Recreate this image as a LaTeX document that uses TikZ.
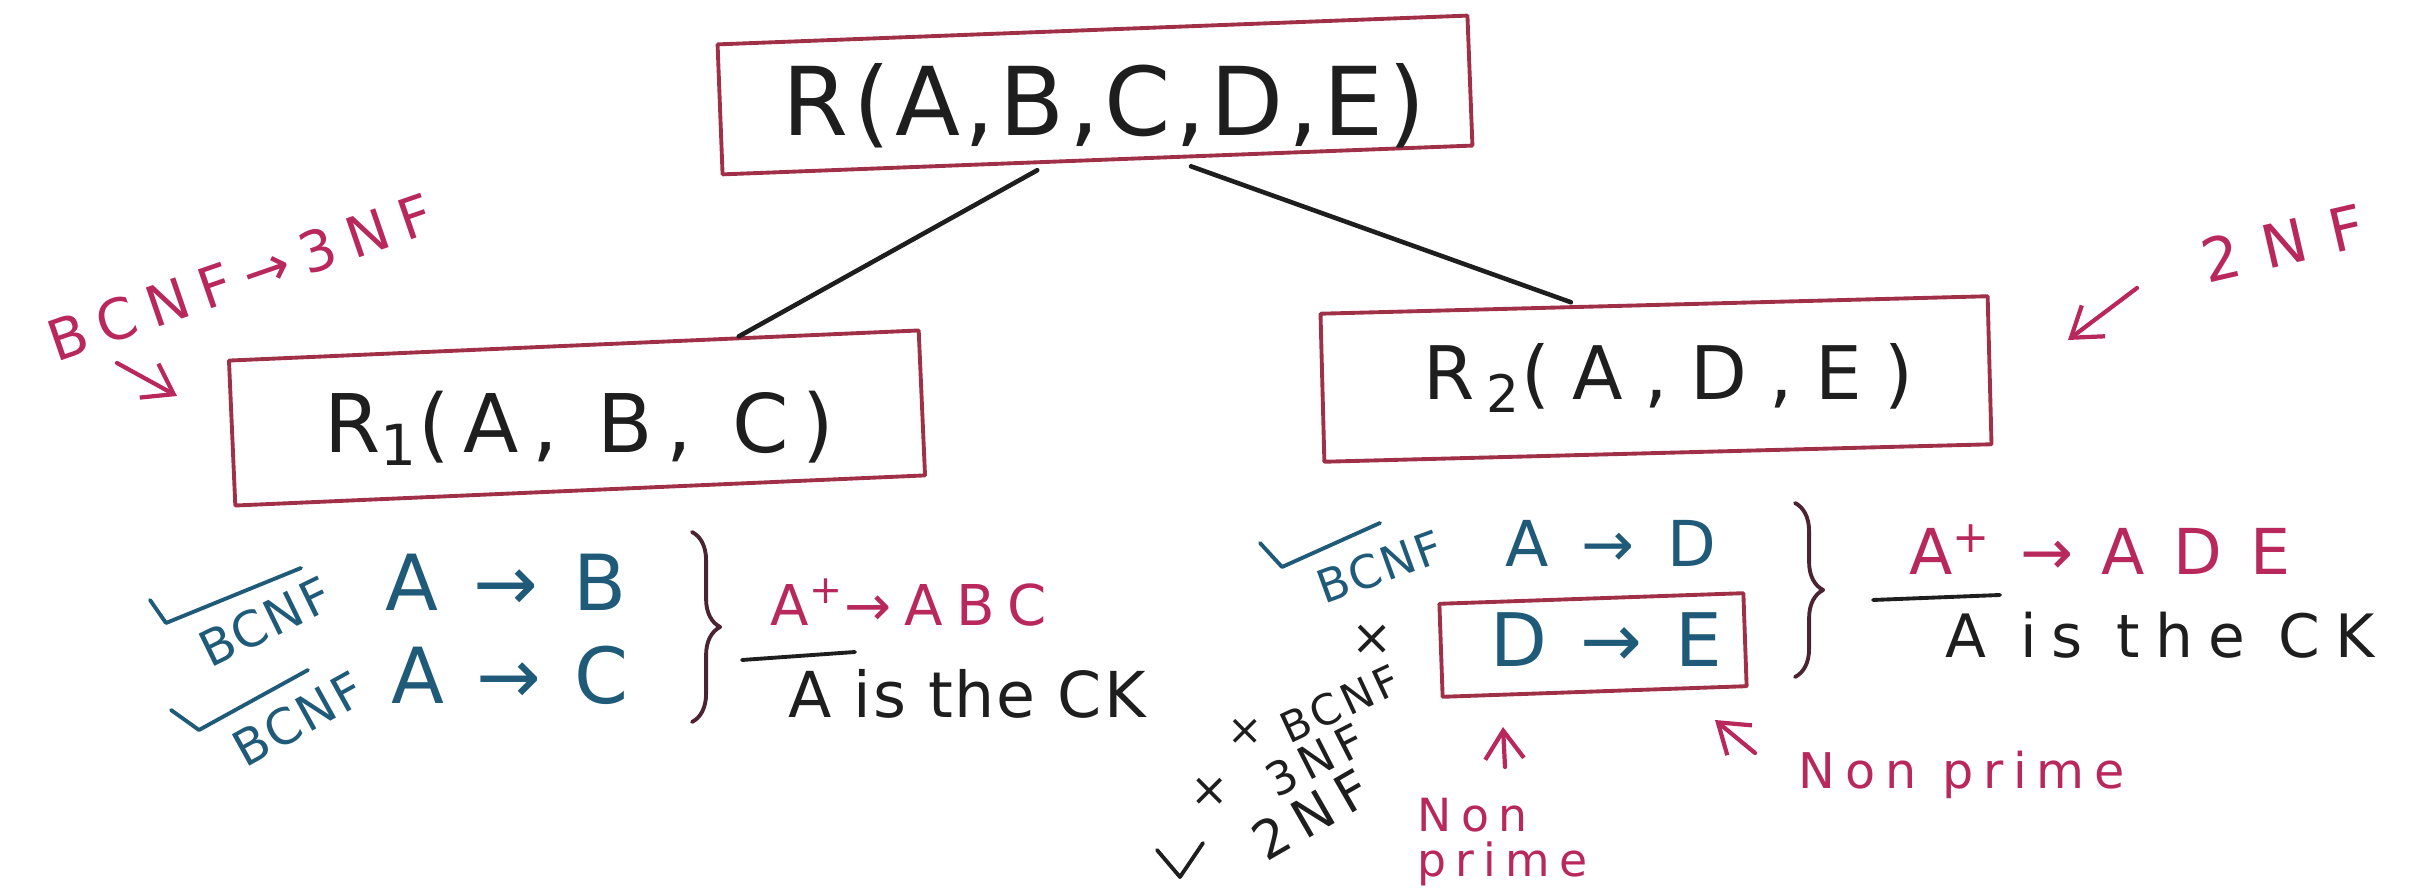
\documentclass[tikz,border=0pt]{standalone}
\usepackage{fontspec}
\setmainfont{DejaVu Sans}
\newcommand\hand[2]{\fontsize{#1}{#1}\selectfont\addfontfeature{LetterSpace=#2}}
\usepackage{tikz}
\usetikzlibrary{arrows.meta,calc,decorations.pathreplacing}
\definecolor{maroon}{HTML}{A03048}
\definecolor{rose}{HTML}{B8285A}
\definecolor{fdblue}{HTML}{1F5A78}
\definecolor{ink}{HTML}{1E1E1E}
\definecolor{bracecol}{HTML}{4A2433}

\begin{document}
\begin{tikzpicture}[x=0.01cm, y=-0.01cm, line cap=round, line join=round,
    relbox/.style={draw=maroon, line width=1.1pt},
    reltext/.style={text=ink},
    fd/.style={text=fdblue},
    closure/.style={text=rose},
    remark/.style={text=rose},
    tag/.style={text=fdblue, font=\hand{14}{5}, inner sep=1pt},
    ckmark/.style={fdblue, line width=1.1pt},
    curly/.style={bracecol, line width=1.1pt, decorate, decoration={brace, amplitude=8pt}},
    redarrow/.style={rose, line width=1.2pt, -{Straight Barb[length=8pt,width=11pt]}},
    branch/.style={ink, line width=1.3pt}]
  \useasboundingbox (0,0) rectangle (2415,895);

  % relations
  \node[relbox, rotate=2.2, minimum width=7.5cm, minimum height=1.3cm] (rel) at (1095,95) {};
  \node[reltext, font=\hand{27}{5}] (relt) at (1104,106) {R(A,B,C,D,E)};
  \node[relbox, rotate=2.5, minimum width=6.9cm, minimum height=1.45cm] (rone) at (577,418) {};
  \node[reltext, font=\hand{23}{17}] (ronet) at (579,428) {R\textsubscript{1}(A, B, C)};
  \node[relbox, rotate=1.5, minimum width=6.67cm, minimum height=1.48cm] (rtwo) at (1656,379) {};
  \node[reltext, font=\hand{21}{30}] (rtwot) at (1668,378) {R\,\textsubscript{2}(A,D,E)};
  \draw[branch] ($(rel.south west)!0.42!(rel.south east)+(0,6)$) -- ($(rone.north west)!0.738!(rone.north east)$);
  \draw[branch] ($(rel.south west)!0.624!(rel.south east)+(0,8)$) -- ($(rtwo.north west)!0.376!(rtwo.north east)+(0,-3)$);

  % normal form notes
  \node[remark, font=\hand{16}{24}, rotate=19] (bcnfnote) at (240,277) {BCNF→3NF};
  \coordinate (bcnftail) at (117,363);
  \coordinate (bcnftip) at (177,396);
  \draw[redarrow] (bcnftail) -- (bcnftip);
  \node[remark, font=\hand{17}{40}, rotate=13] (twonote) at (2283,243) {2NF};
  \coordinate (twotail) at (2137,288);
  \coordinate (twotip) at (2068,340);
  \draw[redarrow] (twotail) -- (twotip);

  % R1 dependencies
  \node[fd, font=\hand{22}{14}] (ab) at (506,582) {A → B};
  \node[fd, font=\hand{22}{10}] (ac) at (510,675) {A → C};
  \node[tag, rotate=26] (tagab) at (265,622) {BCNF};
  \node[tag, rotate=29] (tagac) at (298,719) {BCNF};
  \draw[ckmark] (150,600) -- (166,623) -- (301,568);
  \draw[ckmark] (171,710) -- (199,730) -- (308,670);
  \draw[curly] (692,532) -- (692,722);
  \node[closure, font=\hand{16}{24}] (aplusone) at (909,603) {A\textsuperscript{+}→ABC};
  \draw[ink, line width=1.1pt] (742,660) -- (855,652);
  \node[reltext, font=\hand{18}{3}] (ckone) at (967,694) {A is the CK};

  % R2 dependencies
  \node[fd, font=\hand{18}{20}] (ad) at (1611,543) {A → D};
  \node[tag, font=\hand{13}{5}, rotate=20] (tagad) at (1380,567) {BCNF};
  \draw[ckmark] (1260,543) -- (1282,567) -- (1380,523);
  \node[relbox, rotate=2, minimum width=3.04cm, minimum height=0.93cm] (debox) at (1593,645) {};
  \node[fd, font=\hand{21}{13}] (de) at (1606,640) {D → E};
  \draw[curly] (1795,503) -- (1795,677);
  \node[closure, font=\hand{18}{13}] (aplustwo) at (2100,550) {A\textsuperscript{+} → A D E};
  \draw[ink, line width=1.1pt] (1873,600) -- (2000,595);
  \node[reltext, font=\hand{17}{25}] (cktwo) at (2160,635) {A is the CK};

  % D -> E checks
  \node[reltext, font=\hand{14}{0}, inner sep=1pt] (crossde) at (1372,640) {×};
  \node[reltext, font=\hand{12}{0}, inner sep=1pt] (crossbcnf) at (1245,732) {×};
  \node[reltext, font=\hand{12}{10}, rotate=25, inner sep=1pt] (nobcnf) at (1340,704) {BCNF};
  \node[reltext, font=\hand{13}{0}, inner sep=1pt] (crossthree) at (1210,792) {×};
  \node[reltext, font=\hand{13}{15}, rotate=27, inner sep=1pt] (nothree) at (1315,760) {3NF};
  \draw[ink, line width=1.1pt] (1157,850) -- (1180,877) -- (1203,843);
  \node[reltext, font=\hand{15}{20}, rotate=30, inner sep=1pt] (istwo) at (1311,814) {2NF};

  % non prime attributes
  \coordinate (dtail) at (1505,767);
  \coordinate (dtip) at (1503,727);
  \draw[redarrow] (dtail) -- (dtip);
  \node[remark, align=left, anchor=north west, inner sep=0pt, font=\hand{13}{20}] (npd) at (1417,797) {Non\\prime};
  \coordinate (etail) at (1755,753);
  \coordinate (etip) at (1715,720);
  \draw[redarrow] (etail) -- (etip);
  \node[remark, font=\hand{14}{20}] (npe) at (1962,775) {Non prime};
\end{tikzpicture}
\end{document}
